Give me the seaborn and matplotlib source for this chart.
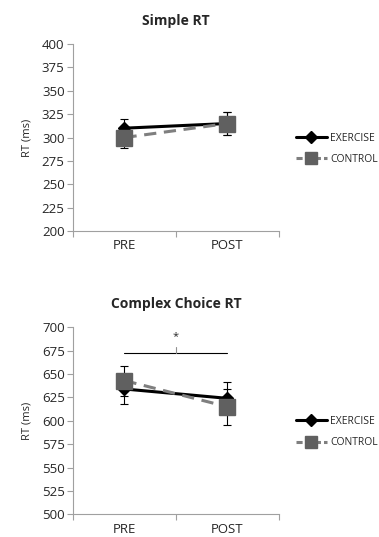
import numpy as np
import pandas as pd
import matplotlib
matplotlib.use("Agg")
import matplotlib.pyplot as plt
from matplotlib.lines import Line2D
import seaborn as sns

categories = ["PRE", "POST"]
groups = ["EXERCISE", "CONTROL"]

simple_exercise = [310, 315]
simple_exercise_err = [10, 12]
simple_control = [300, 315]
simple_control_err = [11, 12]

complex_exercise = [634, 624]
complex_exercise_err = [16, 17]
complex_control = [643, 615]
complex_control_err = [16, 19]

simple_ticks = [200, 225, 250, 275, 300, 325, 350, 375, 400]
complex_ticks = [500, 525, 550, 575, 600, 625, 650, 675, 700]

sns.set_style("white")
plt.rcParams['font.family'] = ['Open Sans', 'DejaVu Sans']

fig = plt.figure(figsize=(3.79, 5.37), dpi=100)
ax1 = fig.add_axes([0.1926, 0.5698, 0.5435, 0.3482])
ax2 = fig.add_axes([0.1926, 0.0423, 0.5435, 0.3482])

styles = {
    "EXERCISE": dict(color="black", marker="D", ls="-", ms=6.5, lw=2.2, mcolor="black"),
    "CONTROL": dict(color="#7f7f7f", marker="s", ls=(0, (4, 2.5)), ms=11, lw=2.2, mcolor="#606060"),
}


def draw(ax, ex, ex_err, ct, ct_err, ticks, title):
    df = pd.DataFrame({
        "time": categories * 2,
        "group": [groups[0]] * 2 + [groups[1]] * 2,
        "rt": ex + ct,
    })
    for g, vals, errs in [("EXERCISE", ex, ex_err), ("CONTROL", ct, ct_err)]:
        st = styles[g]
        sub = df[df.group == g]
        sns.pointplot(data=sub, x="time", y="rt", order=categories, ax=ax,
                      color=st["color"], markers=st["marker"], linestyles="-",
                      errorbar=None, markersize=0, linewidth=st["lw"])
        line = ax.lines[-1]
        line.set_linestyle(st["ls"])
        line.set_marker("None")
        xs = np.arange(len(categories))
        ax.errorbar(xs, vals, yerr=errs, fmt="none", ecolor="black",
                    elinewidth=0.8, capsize=3, capthick=0.8, zorder=3)
        ax.plot(xs, vals, linestyle="None", marker=st["marker"], ms=st["ms"],
                color=st["mcolor"], zorder=4)
    ax.set_ylim(ticks[0], ticks[-1])
    ax.set_yticks(ticks)
    ax.set_xlim(-0.5, 1.5)
    ax.set_xticks([0, 1])
    ax.set_xticklabels(categories)
    ax.set_xticks([-0.5, 0.5, 1.5], minor=True)
    ax.tick_params(axis="x", which="major", length=0, pad=6, labelsize=9.5)
    ax.tick_params(axis="x", which="minor", length=4, width=0.8, color="#a0a0a0", direction="out")
    ax.tick_params(axis="y", length=4, width=0.8, color="#a0a0a0", direction="out", labelsize=9.5, pad=2)
    ax.xaxis.set_ticks_position("bottom")
    ax.yaxis.set_ticks_position("left")
    for s in ["top", "right"]:
        ax.spines[s].set_visible(False)
    for s in ["left", "bottom"]:
        ax.spines[s].set_color("#a0a0a0")
        ax.spines[s].set_linewidth(0.8)
    ax.set_xlabel("")
    ax.set_ylabel("RT (ms)", fontsize=8, labelpad=7)
    ax.set_title(title, fontsize=10, fontweight="bold", pad=14)
    handles = [
        Line2D([], [], color="black", lw=2.2, marker="D", ms=6, label="EXERCISE"),
        Line2D([], [], color="#7f7f7f", lw=2.2, ls=(0, (2, 1)), marker="s", ms=9,
               markerfacecolor="#606060", markeredgecolor="#606060", label="CONTROL"),
    ]
    ax.legend(handles=handles, loc="center left", bbox_to_anchor=(1.06, 0.44),
              frameon=False, fontsize=7.5, handlelength=3.0, handletextpad=0.3,
              labelspacing=1.0, borderaxespad=0)


draw(ax1, simple_exercise, simple_exercise_err, simple_control, simple_control_err,
     simple_ticks, "Simple RT")
draw(ax2, complex_exercise, complex_exercise_err, complex_control, complex_control_err,
     complex_ticks, "Complex Choice RT")

# significance bracket
ax2.plot([0, 1], [672.5, 672.5], color="black", lw=0.8)
ax2.plot([0.5, 0.5], [672.5, 679], color="#909090", lw=0.8)
ax2.text(0.5, 690, "*", ha="center", va="center", fontsize=8)

fig.savefig("out.png", dpi=100)
